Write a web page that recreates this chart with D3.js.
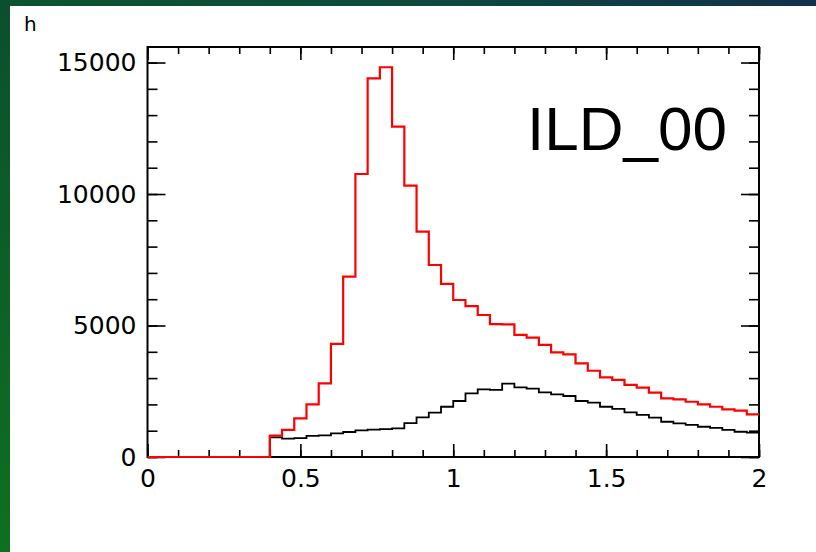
<!DOCTYPE html>
<html>
<head>
<meta charset="utf-8">
<script src="https://cdn.jsdelivr.net/npm/d3@7"></script>
<style>
	html, body { margin:0; padding:0; background:#fff; }
	svg { display:block; }
	.tick text { font-family:"DejaVu Sans", sans-serif; font-size:25px; fill:#000; }
	.domain { display:none; }
</style>
</head>
<body>
<svg id="chart" width="816" height="552"></svg>
<script>

var binEdges = [0, 2],
nBins = 50;

var xMajor = [0, 0.5, 1, 1.5, 2],
xLabels = ["0", "0.5", "1", "1.5", "2"];

var yMajor = [0, 5000, 10000, 15000],
yLabels = ["0", "5000", "10000", "15000"];

// red histogram, bin contents (bins 0..49)
var redCounts = [
	0, 0, 0, 0, 0, 0, 0, 0, 0, 0,
	810, 1030, 1470, 2000, 2800, 4300, 6860, 10760, 14400, 14820,
	12560, 10320, 8570, 7300, 6580, 5970, 5740, 5400, 5050, 5040,
	4640, 4540, 4260, 3980, 3900, 3560, 3280, 3030, 2930, 2740,
	2640, 2450, 2230, 2190, 2100, 2000, 1910, 1810, 1760, 1620
];

// black histogram
var blackCounts = [
	0, 0, 0, 0, 0, 0, 0, 0, 0, 0,
	750, 700, 720, 800, 820, 900, 950, 1010, 1040, 1060,
	1090, 1290, 1510, 1690, 1910, 2130, 2420, 2570, 2550, 2790,
	2650, 2600, 2460, 2380, 2320, 2130, 2070, 1910, 1830, 1700,
	1600, 1500, 1340, 1280, 1220, 1150, 1110, 1030, 960, 925
];

var title = "h",
label = "ILD_00";

var frame = { left:147.5, right:759, top:47, bottom:457 };

var svg = d3.select("#chart");

/**
 * slide background: green strip on the left, green-to-blue strip on top
 */
var defs = svg.append("defs");
var gLeft = defs.append("linearGradient").attr("id","gLeft")
	.attr("x1","0").attr("y1","0").attr("x2","0").attr("y2","1");
gLeft.append("stop").attr("offset","0").attr("stop-color","#0c4f2e");
gLeft.append("stop").attr("offset","1").attr("stop-color","#0f7020");
var gTop = defs.append("linearGradient").attr("id","gTop")
	.attr("x1","0").attr("y1","0").attr("x2","1").attr("y2","0");
gTop.append("stop").attr("offset","0").attr("stop-color","#0c5530");
gTop.append("stop").attr("offset","0.5").attr("stop-color","#0d4a3c");
gTop.append("stop").attr("offset","1").attr("stop-color","#12304c");

svg.append("rect").attr("x",0).attr("y",0).attr("width",816).attr("height",6).attr("fill","url(#gTop)");
svg.append("rect").attr("x",0).attr("y",0).attr("width",10).attr("height",552).attr("fill","url(#gLeft)");

var x = d3.scaleLinear().domain(binEdges).range([frame.left, frame.right]);
var y = d3.scaleLinear().domain([0, 15590]).range([frame.bottom, frame.top]);

var xMinor = d3.range(0, 21).map(function (i) { return i / 10; });
var yMinor = d3.range(0, 16).map(function (i) { return i * 1000; });

/**
 * axes: ticks point inward on all four sides
 */
function addAxis (axis, tx, ty) {
	var g = svg.append("g").attr("transform","translate(" + tx + "," + ty + ")").call(axis);
	g.selectAll(".tick line").attr("stroke","#000").attr("stroke-width",1.6);
	return g;
}

addAxis(d3.axisBottom(x).tickValues(xMinor).tickSize(-7).tickFormat(""), 0, frame.bottom);
addAxis(d3.axisBottom(x).tickValues(xMajor).tickSize(-13).tickPadding(12)
	.tickFormat(function (d, i) { return xLabels[i]; }), 0, frame.bottom);
addAxis(d3.axisTop(x).tickValues(xMinor).tickSize(-7).tickFormat(""), 0, frame.top);
addAxis(d3.axisTop(x).tickValues(xMajor).tickSize(-13).tickFormat(""), 0, frame.top);

addAxis(d3.axisLeft(y).tickValues(yMinor).tickSize(-10).tickFormat(""), frame.left, 0);
addAxis(d3.axisLeft(y).tickValues(yMajor).tickSize(-18).tickPadding(11)
	.tickFormat(function (d, i) { return yLabels[i]; }), frame.left, 0);
addAxis(d3.axisRight(y).tickValues(yMinor).tickSize(-10).tickFormat(""), frame.right, 0);
addAxis(d3.axisRight(y).tickValues(yMajor).tickSize(-18).tickFormat(""), frame.right, 0);

// frame
svg.append("rect")
	.attr("x", frame.left).attr("y", frame.top)
	.attr("width", frame.right - frame.left).attr("height", frame.bottom - frame.top)
	.attr("fill","none").attr("stroke","#000").attr("stroke-width",2);

/**
 * histogram lines (step shape, one segment per bin), drawn over the frame
 */
function binPoints (counts) {
	var w = (binEdges[1] - binEdges[0]) / nBins;
	var pts = counts.map(function (c, i) { return [binEdges[0] + i * w, c]; });
	pts.push([binEdges[1], counts[counts.length - 1]]);
	return pts;
}

var step = d3.line()
	.x(function (d) { return x(d[0]); })
	.y(function (d) { return y(d[1]); })
	.curve(d3.curveStepAfter);

svg.append("path").datum(binPoints(blackCounts))
	.attr("d", step).attr("fill","none").attr("stroke","#000").attr("stroke-width",1.8);
svg.append("path").datum(binPoints(redCounts))
	.attr("d", step).attr("fill","none").attr("stroke","#ff0000").attr("stroke-width",2.2);

// title and label
svg.append("text").attr("x",24).attr("y",31)
	.attr("font-family","DejaVu Sans, sans-serif").attr("font-size",20).text(title);

svg.append("text").attr("x",527).attr("y",150)
	.attr("font-family","Liberation Sans, Arial, sans-serif").attr("font-size",62).text(label);

</script>
</body>
</html>
